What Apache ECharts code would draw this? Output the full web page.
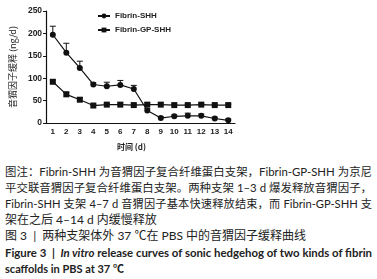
<!DOCTYPE html>
<html>
<head>
<meta charset="utf-8">
<script src="https://cdn.jsdelivr.net/npm/echarts@6/dist/echarts.min.js"></script>
<style>
  html, body { margin: 0; padding: 0; background: #fff; }
  #wrap { position: relative; width: 377px; height: 279px; overflow: hidden; }
  #chart { position: absolute; left: 0; top: 0; width: 377px; height: 160px; }
  .cap { position: absolute; left: 5px; width: 367px; font-family: "Lato", "Noto Sans CJK SC", sans-serif;
         font-size: 12px; line-height: 16px; color: #222; white-space: nowrap; overflow: visible; }
  .just { text-align: justify; text-align-last: justify; }
  .b { font-weight: bold; }
</style>
</head>
<body>
<div id="wrap">
  <div id="chart"></div>
  <div class="cap just" style="top:164px">图注：Fibrin-SHH 为音猬因子复合纤维蛋白支架，Fibrin-GP-SHH 为京尼</div>
  <div class="cap just" style="top:180px">平交联音猬因子复合纤维蛋白支架。两种支架 1–3 d 爆发释放音猬因子，</div>
  <div class="cap just" style="top:196px">Fibrin-SHH 支架 4–7 d 音猬因子基本快速释放结束，而 Fibrin-GP-SHH 支</div>
  <div class="cap" style="top:212px">架在之后 4–14 d 内缓慢释放</div>
  <div class="cap" style="top:228px">图 3 &nbsp;|&nbsp; 两种支架体外 37 ℃在 PBS 中的音猬因子缓释曲线</div>
  <div class="cap just b" style="top:245px">Figure 3 &nbsp;|&nbsp; <i>In vitro</i> release curves of sonic hedgehog of two kinds of fibrin</div>
  <div class="cap b" style="top:261px; font-size:11px">scaffolds in PBS at 37 ℃</div>
</div>
<script>
var days = ['1','2','3','4','5','6','7','8','9','10','11','12','13','14'];
var yTicks = [0, 50, 100, 150, 200, 250];
var shhValues = [197, 157, 123, 86, 82, 85, 76, 28, 11, 15, 16, 16, 10, 6];
var shhErrors = [19, 21, 15, 4, 9, 10, 8, 4, 3, 3, 6, 4, 3, 3];
var gpValues = [92, 64, 52, 39, 41, 41, 40, 41, 41, 40, 40, 41, 40, 40];
var gpErrors = [4, 5, 4, 2, 3, 4, 2, 4, 4, 2, 2, 3, 2, 2];

// shrink caption lines that do not fit the column
document.querySelectorAll('.cap').forEach(function (el) {
    var fs = parseFloat(getComputedStyle(el).fontSize);
    while (el.scrollWidth > 367 && fs > 8) {
        fs -= 0.2;
        el.style.fontSize = fs + 'px';
    }
});

var chart = echarts.init(document.getElementById('chart'));

// upward error bar with a cap, drawn through the axes
function errorBars(values, errors) {
    return {
        type: 'custom',
        silent: true,
        z: 1,
        encode: { x: 0, y: 1 },
        renderItem: function (params, api) {
            var i = api.value(0), v = api.value(1), e = api.value(2);
            var p0 = api.coord([i, v]);
            var p1 = api.coord([i, v + e]);
            var st = { stroke: '#111', lineWidth: 1 };
            return {
                type: 'group',
                children: [
                    { type: 'line', shape: { x1: p0[0], y1: p0[1], x2: p1[0], y2: p1[1] }, style: st },
                    { type: 'line', shape: { x1: p1[0] - 3, y1: p1[1], x2: p1[0] + 3, y2: p1[1] }, style: st }
                ]
            };
        },
        data: values.map(function (v, i) { return [i, v, errors[i]]; })
    };
}

var opt = {
    animation: false,
    grid: { left: 40, right: 142, top: 11, bottom: 37 },
    legend: {
        orient: 'vertical',
        left: 97,
        top: 12,
        padding: 0,
        itemWidth: 12,
        itemHeight: 6,
        itemGap: 6,
        textStyle: { color: '#222', fontSize: 8, fontWeight: 'bold', fontFamily: 'Liberation Sans' },
        data: ['Fibrin-SHH', 'Fibrin-GP-SHH']
    },
    xAxis: {
        type: 'category',
        data: days,
        boundaryGap: true,
        axisLine: { lineStyle: { color: '#111', width: 1.2 } },
        axisTick: { alignWithLabel: true, interval: 0, length: 3, lineStyle: { color: '#111' } },
        axisLabel: {
            interval: 0,
            margin: 5,
            color: '#222',
            fontSize: 8,
            fontWeight: 'bold',
            fontFamily: 'Liberation Sans'
        }
    },
    yAxis: {
        type: 'value',
        min: yTicks[0],
        max: yTicks[yTicks.length - 1],
        interval: 50,
        name: '音猬因子缓释 (ng/d)',
        nameLocation: 'middle',
        nameGap: 27,
        nameTextStyle: { color: '#222', fontSize: 9, fontFamily: 'Noto Sans CJK SC' },
        axisLine: { show: true, lineStyle: { color: '#111', width: 1.2 } },
        axisTick: { show: true, length: 3, lineStyle: { color: '#111' } },
        splitLine: { show: false },
        axisLabel: { margin: 4, color: '#222', fontSize: 8.5, fontWeight: 'bold', fontFamily: 'Liberation Sans' }
    },
    graphic: [{
        type: 'text',
        left: 117,
        top: 143,
        style: { text: '时间 (d)', fill: '#222', font: 'bold 8px "Noto Sans CJK SC"' }
    }],
    series: [
        errorBars(shhValues, shhErrors),
        errorBars(gpValues, gpErrors),
        {
            name: 'Fibrin-SHH',
            type: 'line',
            data: shhValues,
            symbol: 'circle',
            symbolSize: 6,
            itemStyle: { color: '#111' },
            lineStyle: { color: '#111', width: 1.2 },
            z: 3
        },
        {
            name: 'Fibrin-GP-SHH',
            type: 'line',
            data: gpValues,
            symbol: 'rect',
            symbolSize: 6,
            itemStyle: { color: '#111' },
            lineStyle: { color: '#111', width: 1.2 },
            z: 3
        }
    ]
};
chart.setOption(opt, true);
</script>
</body>
</html>
